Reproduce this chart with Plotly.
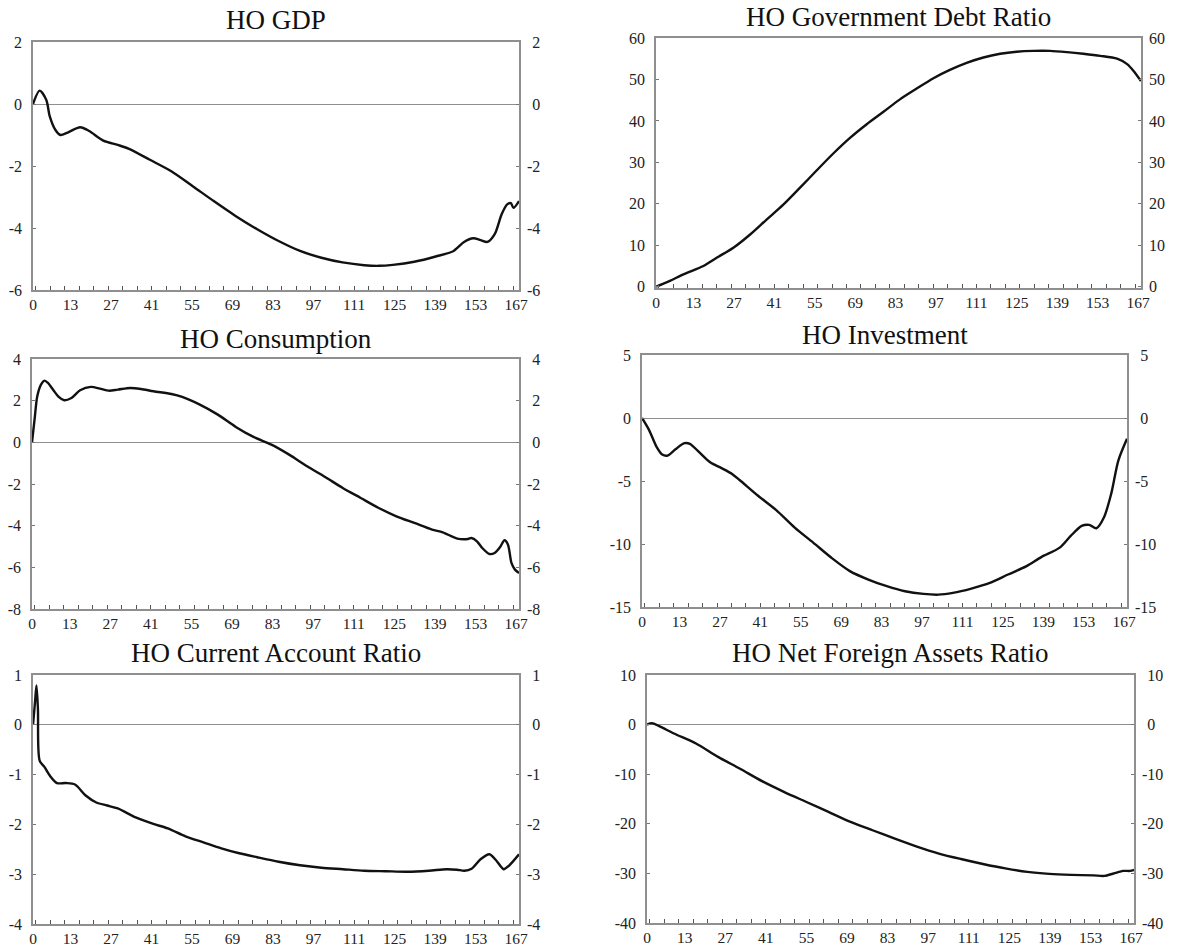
import plotly.graph_objects as go

# ---------------- data ----------------
tick_labels = [0, 13, 27, 41, 55, 69, 83, 97, 111, 125, 139, 153, 167]

gdp_x = [0, 2.3, 4.6, 5.8, 7.7, 9.5, 12, 16.3, 19.4, 24.3, 29.3, 33, 40.4, 47.8, 55.2, 62.6, 70,
         77.5, 84.9, 92.3, 99.7, 107, 114.5, 119.5, 124.4, 131.8, 139.2, 145.4, 149, 152.2, 154.7,
         157.1, 159.6, 162, 163.9, 165.2, 166.1, 168]
gdp_y = [0, 0.43, 0.13, -0.4, -0.83, -1.0, -0.92, -0.75, -0.87, -1.18, -1.32, -1.44, -1.8, -2.17,
         -2.65, -3.14, -3.61, -4.04, -4.42, -4.74, -4.96, -5.11, -5.2, -5.22, -5.19, -5.09, -4.92,
         -4.74, -4.45, -4.33, -4.39, -4.45, -4.2, -3.56, -3.24, -3.2, -3.35, -3.13]

debt_x = [0, 4.8, 9.5, 16.4, 21, 26.8, 32.6, 38.3, 44.1, 49.9, 55.7, 61.5, 67.2, 73, 78.8, 84.5,
          90.3, 96.1, 101.8, 107.6, 113.4, 119.2, 124.9, 130.7, 136.5, 142.3, 148, 153.9, 159.7,
          163.2, 165.5, 168]
debt_y = [0, 1.4, 3.0, 5.0, 7.0, 9.4, 12.6, 16.2, 19.8, 23.9, 28.1, 32.2, 35.9, 39.2, 42.2, 45.2,
          47.8, 50.3, 52.3, 54.0, 55.3, 56.2, 56.7, 56.9, 56.9, 56.6, 56.2, 55.7, 55.0, 53.7, 52.0,
          49.6]

cons_x = [0, 1, 1.8, 3.1, 4.3, 5.5, 7.4, 9.2, 11.1, 13.6, 16.6, 20.3, 23.4, 26.5, 29.6, 33.9, 37.6,
          41.9, 48.1, 51.8, 57.9, 64.1, 70.3, 76.4, 82.6, 88.7, 94.9, 101.1, 107.2, 113.4, 119.6,
          125.7, 131.9, 138, 141.7, 146.7, 150.4, 151.6, 153.5, 155.3, 157.8, 159.6, 161.5, 163,
          164.2, 165.4, 166.6, 168]
cons_y = [0, 1.25, 2.2, 2.77, 2.96, 2.85, 2.5, 2.18, 2.02, 2.13, 2.5, 2.66, 2.58, 2.48, 2.53, 2.61,
          2.56, 2.45, 2.32, 2.18, 1.81, 1.33, 0.74, 0.26, -0.11, -0.59, -1.15, -1.66, -2.19, -2.67,
          -3.15, -3.55, -3.87, -4.19, -4.32, -4.62, -4.64, -4.59, -4.75, -5.07, -5.36, -5.31, -5.02,
          -4.7, -4.91, -5.79, -6.11, -6.27]

inv_x = [0, 2.5, 5.1, 7, 8.9, 11.5, 14.7, 16.6, 19.8, 23.6, 27.4, 31.2, 33.8, 40.2, 46.5, 52.9,
         59.3, 65.6, 72, 78.4, 84.8, 91.1, 97.5, 102.6, 107.7, 114.1, 120.5, 126.8, 133.2, 138.3,
         144.7, 148.5, 152.3, 154.9, 157.4, 160, 162.5, 165, 168]
inv_y = [0, -0.98, -2.31, -2.9, -2.98, -2.5, -2.0, -2.05, -2.71, -3.51, -3.96, -4.44, -4.92, -6.17,
         -7.31, -8.7, -9.89, -11.09, -12.15, -12.82, -13.35, -13.75, -13.96, -14.02, -13.88, -13.54,
         -13.09, -12.42, -11.76, -11.04, -10.29, -9.36, -8.56, -8.48, -8.75, -7.9, -6.04, -3.38, -1.65]

ca_x = [0, 0.7, 1.2, 1.7, 2.3, 4, 5.8, 8.3, 11.4, 14.5, 18.2, 21.9, 25.6, 29.3, 35.5, 41.6, 46.6,
        52.7, 58.9, 65.1, 71.3, 77.5, 84.9, 92.3, 99.7, 107.1, 114.5, 121.9, 129.3, 136.8, 143,
        146.6, 149.1, 151.6, 154.7, 157.8, 160.2, 162.7, 164.5, 168]
ca_y = [0, 0.46, 0.79, 0.32, -0.72, -0.85, -1.02, -1.17, -1.17, -1.2, -1.42, -1.56, -1.62, -1.68,
        -1.86, -1.99, -2.08, -2.24, -2.36, -2.48, -2.58, -2.66, -2.75, -2.82, -2.87, -2.9, -2.93,
        -2.94, -2.95, -2.93, -2.9, -2.91, -2.93, -2.89, -2.7, -2.6, -2.73, -2.9, -2.83, -2.6]

nfa_x = [0, 1.7, 4.2, 9.3, 16.9, 24.5, 32.1, 39.7, 47.4, 55, 62.6, 70.2, 77.8, 85.5, 93.1, 100.7,
         108.3, 115.9, 123.6, 131.2, 138.8, 146.4, 154, 157.8, 161.7, 164.2, 166.7, 168]
nfa_y = [0, 0.3, -0.3, -1.8, -3.8, -6.5, -8.9, -11.4, -13.6, -15.6, -17.6, -19.6, -21.3, -23,
         -24.6, -26, -27.1, -28.1, -29, -29.7, -30.1, -30.3, -30.4, -30.5, -29.9, -29.5, -29.5, -29.3]

titles = ["HO GDP", "HO Government Debt Ratio", "HO Consumption", "HO Investment",
          "HO Current Account Ratio", "HO Net Foreign Assets Ratio"]
y_ranges = [[-6, 2], [-0.3, 60], [-8, 4], [-15, 5], [-4, 1], [-40, 10]]
y_ticks = [[-6, -4, -2, 0, 2], [0, 10, 20, 30, 40, 50, 60], [-8, -6, -4, -2, 0, 2, 4],
           [-15, -10, -5, 0, 5], [-4, -3, -2, -1, 0, 1], [-40, -30, -20, -10, 0, 10]]

series = [(gdp_x, gdp_y), (debt_x, debt_y), (cons_x, cons_y), (inv_x, inv_y),
          (ca_x, ca_y), (nfa_x, nfa_y)]

# ---------------- layout (pixel boxes of each plot area) ----------------
W, H = 1178, 947
boxes = [(33, 519, 42, 290), (656, 1141, 38, 288),
         (32, 519, 359, 609), (642, 1127, 355, 607),
         (33, 519, 675, 924), (647, 1134, 675, 923)]
title_y = [20, 17, 339, 335, 653, 653]

FONT = "Liberation Serif, Times New Roman, serif"
AX = "#8f8f8f"
TXT = "#222"
HIDDEN_MINUS = '<span style="color:rgba(0,0,0,0)">-</span>'

fig = go.Figure()
layout = dict(width=W, height=H, margin=dict(l=0, r=0, t=0, b=0, autoexpand=False),
              paper_bgcolor="white", plot_bgcolor="white", showlegend=False,
              font=dict(family=FONT, size=16, color=TXT))
annotations = []

for i in range(6):
    n = i + 1
    nr = i + 7
    x0, x1, y0, y1 = boxes[i]
    xd = [x0 / W, x1 / W]
    yd = [1 - y1 / H, 1 - y0 / H]
    xs, ys = series[i]
    fig.add_trace(go.Scatter(x=xs, y=ys, mode="lines", xaxis=f"x{n}", yaxis=f"y{n}",
                             line=dict(color="#111", width=2.4, shape="spline", smoothing=0.8),
                             hoverinfo="skip"))
    # invisible trace carrying the right-hand mirrored axis
    fig.add_trace(go.Scatter(x=xs, y=ys, mode="lines", xaxis=f"x{n}", yaxis=f"y{nr}",
                             line=dict(width=0), opacity=0, hoverinfo="skip"))
    left_text = [str(v) for v in y_ticks[i]]
    has_neg = any(v < 0 for v in y_ticks[i])
    right_text = [(HIDDEN_MINUS + str(v)) if (has_neg and v >= 0) else str(v)
                  for v in y_ticks[i]]
    layout[f"xaxis{n}"] = dict(domain=xd, anchor=f"y{n}", range=[0, 168],
                               tickvals=tick_labels, ticktext=[str(t) for t in tick_labels],
                               ticks="", ticklabelstandoff=0,
                               minor=dict(tick0=1, dtick=5, ticks="inside", ticklen=4,
                                          tickcolor="#555", tickwidth=1, showgrid=False),
                               showline=True, linecolor=AX, linewidth=1.5, mirror=True,
                               showgrid=False, zeroline=False,
                               tickfont=dict(family=FONT, size=15.5, color=TXT))
    layout[f"yaxis{n}"] = dict(domain=yd, anchor=f"x{n}", range=y_ranges[i],
                               tickvals=y_ticks[i], ticktext=left_text,
                               ticks="inside", ticklen=3, tickcolor="#777",
                               ticklabelstandoff=6,
                               showline=True, linecolor=AX, linewidth=1.5, mirror=True,
                               showgrid=False, zeroline=(i != 1), zerolinecolor=AX,
                               zerolinewidth=1.2,
                               tickfont=dict(family=FONT, size=16, color=TXT))
    layout[f"yaxis{nr}"] = dict(overlaying=f"y{n}", anchor=f"x{n}", side="right",
                                range=y_ranges[i], tickvals=y_ticks[i], ticktext=right_text,
                                ticks="inside", ticklen=3, tickcolor="#777",
                                ticklabelstandoff=7,
                                showline=False, showgrid=False, zeroline=False,
                                tickfont=dict(family=FONT, size=16, color=TXT))
    annotations.append(dict(text=titles[i], x=(x0 + x1) / 2 / W, y=1 - title_y[i] / H,
                            xref="paper", yref="paper", xanchor="center", yanchor="middle",
                            showarrow=False, font=dict(family=FONT, size=27, color="#111")))

layout["annotations"] = annotations
fig.update_layout(**layout)
fig.write_html("out.html", config={"displayModeBar": False},
               post_script="document.body.style.margin='0px';"
                           "document.body.style.overflow='hidden';")
